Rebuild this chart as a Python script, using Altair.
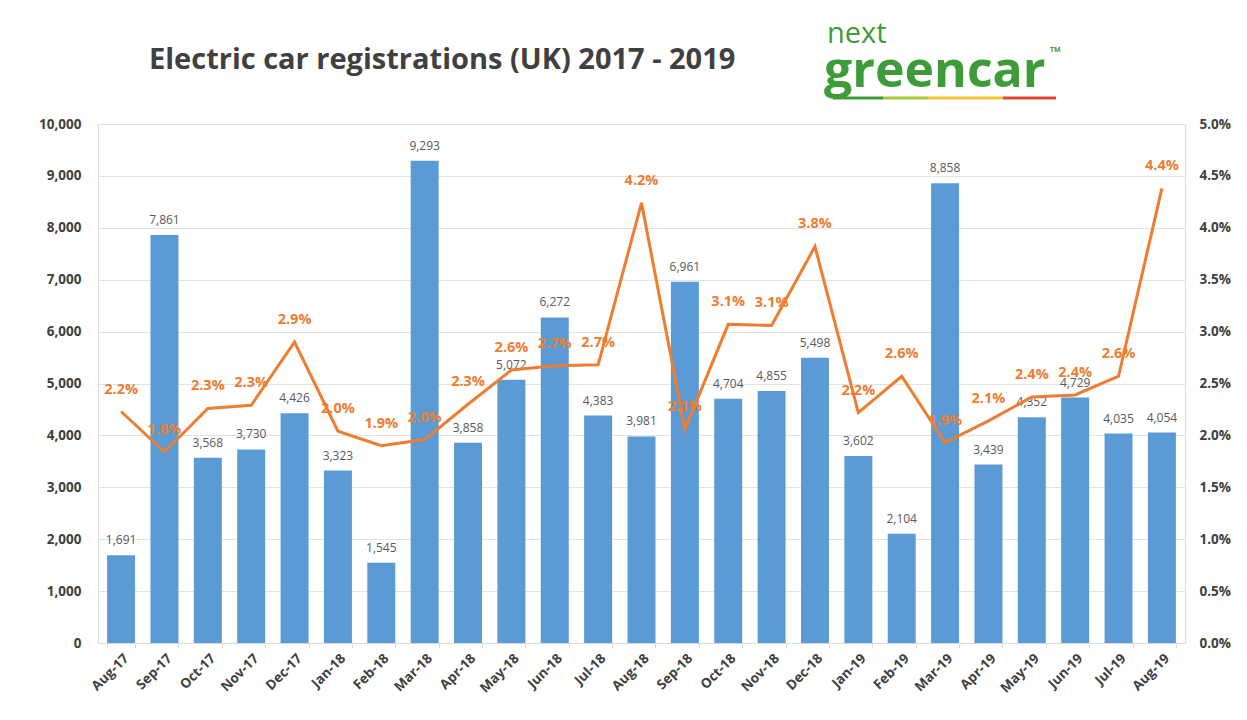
import altair as alt
import pandas as pd

months = ["Aug-17", "Sep-17", "Oct-17", "Nov-17", "Dec-17", "Jan-18", "Feb-18", "Mar-18",
          "Apr-18", "May-18", "Jun-18", "Jul-18", "Aug-18", "Sep-18", "Oct-18", "Nov-18",
          "Dec-18", "Jan-19", "Feb-19", "Mar-19", "Apr-19", "May-19", "Jun-19", "Jul-19", "Aug-19"]
registrations = [1691, 7861, 3568, 3730, 4426, 3323, 1545, 9293, 3858, 5072, 6272, 4383, 3981,
                 6961, 4704, 4855, 5498, 3602, 2104, 8858, 3439, 4352, 4729, 4035, 4054]
market_share = [0.0223, 0.0184, 0.0226, 0.0229, 0.0290, 0.0204, 0.0190, 0.0196, 0.0230, 0.0263,
                0.0267, 0.0268, 0.0424, 0.0206, 0.0307, 0.0306, 0.0382, 0.0222, 0.0257, 0.0193,
                0.0214, 0.0237, 0.0239, 0.0257, 0.0438]
reg_ticks = list(range(0, 10001, 1000))
share_ticks = [0.0, 0.005, 0.01, 0.015, 0.02, 0.025, 0.03, 0.035, 0.04, 0.045, 0.05]

title_text = "Electric car registrations (UK) 2017 - 2019"

df = pd.DataFrame({"month": months, "reg": registrations, "share": market_share})
one = pd.DataFrame({"k": [0]})

BLUE = "#5B9BD5"
ORANGE = "#ED7D31"
GREEN = "#3E9B3A"
FONT = "Open Sans"

x = alt.X("month:N", sort=months, title=None,
          scale=alt.Scale(paddingInner=0.355, paddingOuter=0.21),
          axis=alt.Axis(labelAngle=-45, labelFontSize=13.5, labelFontWeight="bold",
                        labelColor="#404040", labelFont=FONT, domainColor="#D9D9D9",
                        tickColor="#D9D9D9", tickBand="extent", tickSize=5, labelPadding=3))

base = alt.Chart(df).encode(x=x)

bars = base.mark_bar(color=BLUE).encode(
    y=alt.Y("reg:Q", title=None,
            scale=alt.Scale(domain=[0, 10000]),
            axis=alt.Axis(orient="left", values=reg_ticks, format=",.0f",
                          labelFontSize=13.5, labelFontWeight="bold", labelColor="#404040",
                          labelFont=FONT, domain=False, ticks=False, gridColor="#E3E3E3",
                          labelPadding=17)))

bar_text = base.mark_text(dy=-11, baseline="alphabetic", fontSize=12, color="#595959",
                          font=FONT).encode(
    y=alt.Y("reg:Q", scale=alt.Scale(domain=[0, 10000]), axis=None),
    text=alt.Text("reg:Q", format=",.0f"))

line = base.mark_line(color=ORANGE, strokeWidth=3).encode(
    y=alt.Y("share:Q", title=None,
            scale=alt.Scale(domain=[0, 0.05]),
            axis=alt.Axis(orient="right", values=share_ticks, format=".1%",
                          labelFontSize=13.5, labelFontWeight="bold", labelColor="#404040",
                          labelFont=FONT, domain=False, ticks=False, grid=False,
                          labelPadding=14)))

line_text = base.mark_text(dy=-18, baseline="alphabetic", fontSize=14.5, fontWeight="bold",
                           color=ORANGE, font=FONT).encode(
    y=alt.Y("share:Q", scale=alt.Scale(domain=[0, 0.05]), axis=None),
    text=alt.Text("share:Q", format=".1%"))

deco = alt.Chart(one)
title = deco.mark_text(text=title_text, font=FONT, fontSize=29, fontWeight="bold",
                       color="#404040", align="left", baseline="middle").encode(
    x=alt.value(51), y=alt.value(-64))
logo_next = deco.mark_text(text="next", font=FONT, fontSize=29, color=GREEN,
                           align="left", baseline="alphabetic").encode(
    x=alt.value(729), y=alt.value(-81))
logo_green = deco.mark_text(text="greencar", font=FONT, fontSize=50, fontWeight="bold",
                            color=GREEN, align="left", baseline="alphabetic").encode(
    x=alt.value(726), y=alt.value(-37))
logo_tm = deco.mark_text(text="TM", font=FONT, fontSize=7, fontWeight="bold", color=GREEN,
                         align="left").encode(x=alt.value(952), y=alt.value(-74))
uline = [("#3E9B3A", 735, 785), ("#A8C83A", 785, 830), ("#F2C230", 830, 905), ("#E0473A", 905, 958)]
underlines = [deco.mark_rule(color=c, strokeWidth=3).encode(
    x=alt.value(a), x2=alt.value(b), y=alt.value(-26)) for c, a, b in uline]

chart = alt.layer(bars, bar_text, line, line_text, title, logo_next, logo_green, logo_tm,
                  *underlines).resolve_scale(
    y="independent"
).properties(
    width=1087, height=519,
    padding={"left": 30, "top": 12, "right": 5, "bottom": 5}
).configure_view(stroke=None).configure(background="white")

chart.save("out.html", embed_options={"renderer": "svg", "actions": False})
